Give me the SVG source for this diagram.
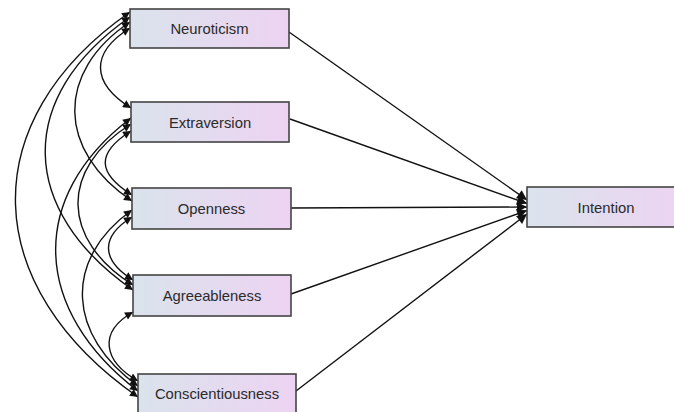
<svg xmlns="http://www.w3.org/2000/svg" width="674" height="412" viewBox="0 0 674 412">
<defs>
<linearGradient id="g" x1="0" y1="0" x2="1" y2="0">
<stop offset="0" stop-color="#dae3ec"/>
<stop offset="1" stop-color="#edd3f2"/>
</linearGradient>
<marker id="ah" viewBox="0 0 10 10" refX="10" refY="5" markerUnits="userSpaceOnUse" markerWidth="14" markerHeight="8" orient="auto-start-reverse">
<path d="M0,0 L10,5 L0,10 z" fill="#111"/>
</marker>
<marker id="big" viewBox="0 0 10 10" refX="10" refY="5" markerUnits="userSpaceOnUse" markerWidth="19" markerHeight="10" orient="auto">
<path d="M0,0 L10,5 L0,10 z" fill="#111"/>
</marker>
</defs>
<style>
.box{fill:url(#g);stroke:#444;stroke-width:1.6}
.lbl{font-family:"Liberation Sans",Arial,sans-serif;font-size:14.8px;fill:#2a2a2a;text-anchor:middle}
.cov{fill:none;stroke:#111;stroke-width:1.4;marker-start:url(#ah);marker-end:url(#ah)}
.reg{fill:none;stroke:#111;stroke-width:1.4;marker-end:url(#big)}
</style>
<rect width="674" height="412" fill="#fff"/>
<g id="connectors">
<path class="cov" d="M130,28 C90,53 91,83 131,108"/>
<path class="cov" d="M130,22 C55,72 57,151 132,201"/>
<path class="cov" d="M130,17 C15,97 18,210 133,290"/>
<path class="cov" d="M130,12 C-28,122 -20,287 138,397"/>
<path class="cov" d="M131,131 C96,153 97,173 132,195"/>
<path class="cov" d="M131,124 C59,169 61,240 133,285"/>
<path class="cov" d="M131,118 C26,198 33,311 138,391"/>
<path class="cov" d="M132,217 C100,237 101,260 133,280"/>
<path class="cov" d="M132,210 C62,260 68,336 138,386"/>
<path class="cov" d="M133,312 C98,332 103,361 138,381"/>
<path class="reg" d="M289,32 L527,200"/>
<path class="reg" d="M290,119 L527,203.5"/>
<path class="reg" d="M291,208 L527,207"/>
<path class="reg" d="M291,294 L527,210.5"/>
<path class="reg" d="M296,391 L527,214"/>
</g>
<g id="neuroticism"><rect class="box" x="130" y="9" width="159" height="39"/><text class="lbl" x="209.5" y="34">Neuroticism</text></g>
<g id="extraversion"><rect class="box" x="131" y="102" width="158" height="40"/><text class="lbl" x="210" y="127.5">Extraversion</text></g>
<g id="openness"><rect class="box" x="132" y="188" width="159" height="41"/><text class="lbl" x="211.5" y="214">Openness</text></g>
<g id="agreeableness"><rect class="box" x="133" y="275" width="158" height="41"/><text class="lbl" x="212" y="301">Agreeableness</text></g>
<g id="conscientiousness"><rect class="box" x="138" y="374" width="158" height="40"/><text class="lbl" x="217" y="399">Conscientiousness</text></g>
<g id="intention"><rect class="box" x="527" y="187" width="158" height="40"/><text class="lbl" x="606" y="212.5">Intention</text></g>
</svg>
